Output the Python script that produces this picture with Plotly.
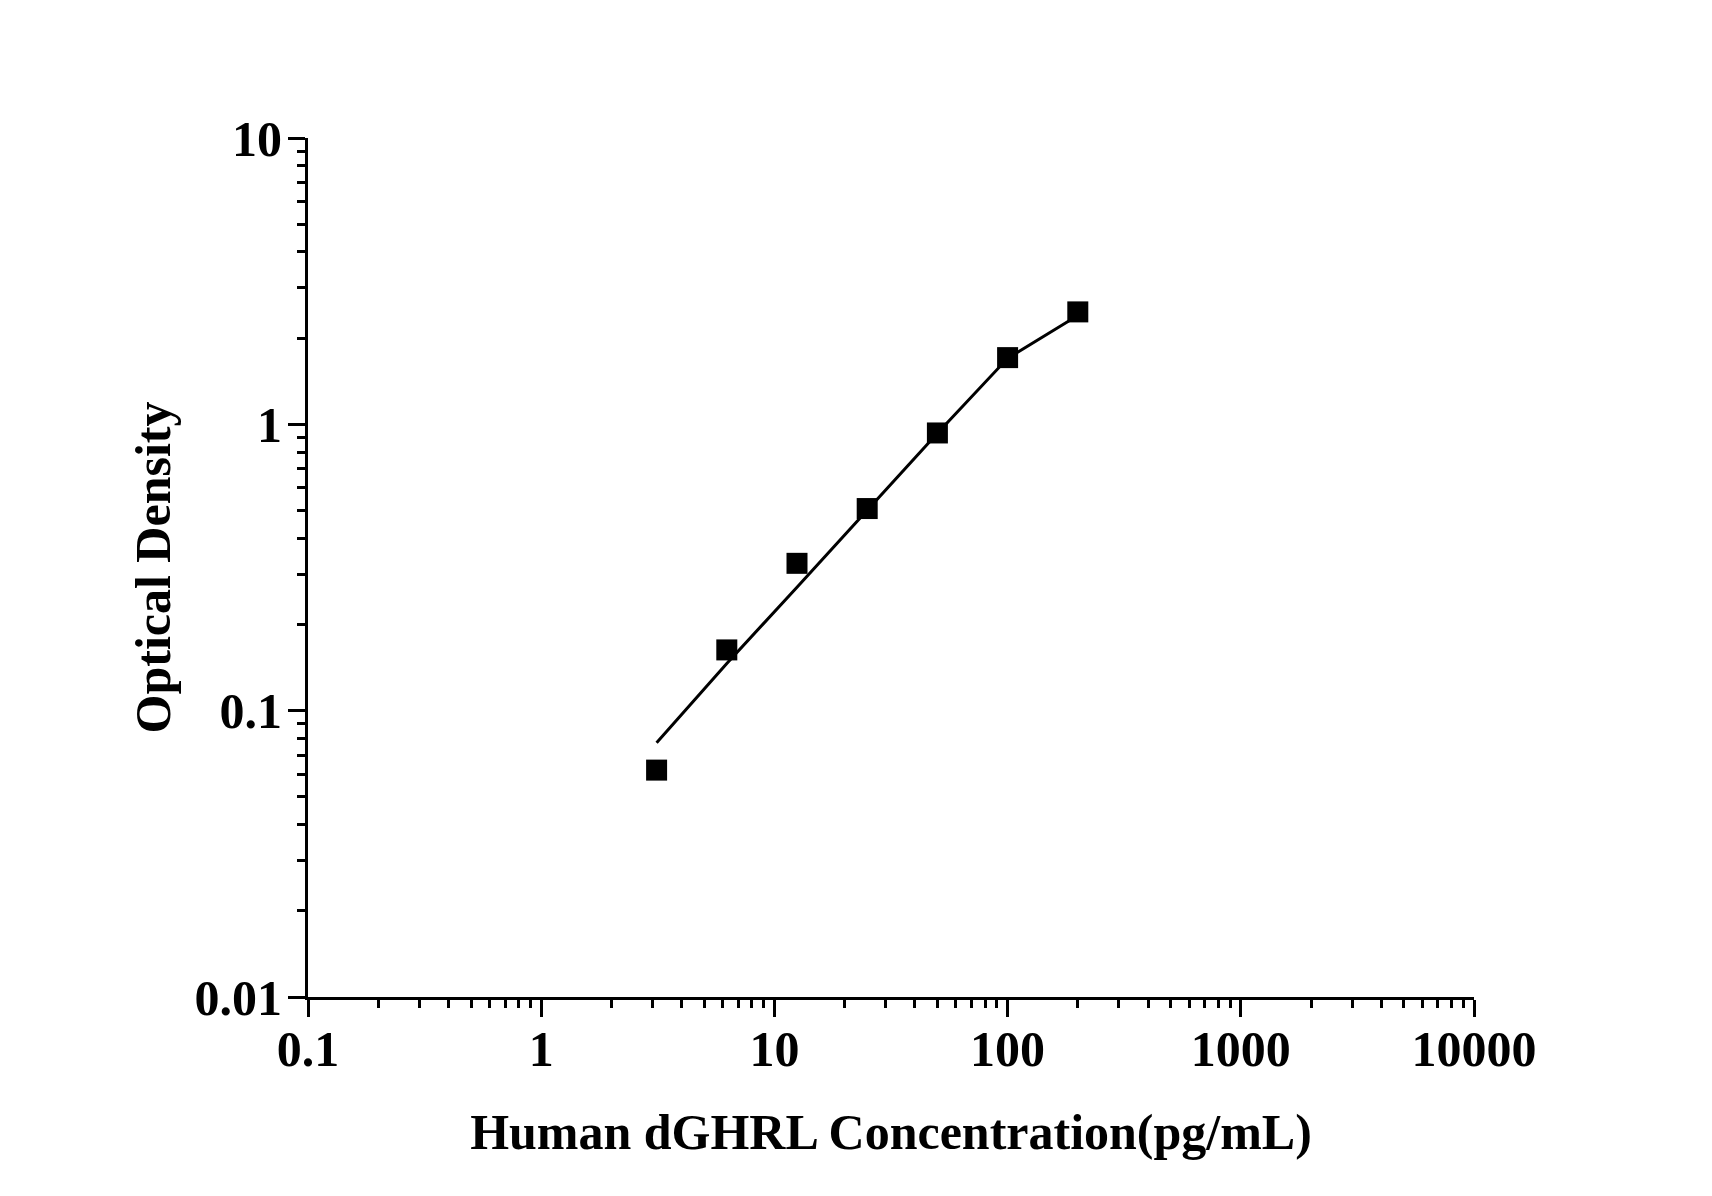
import plotly.graph_objects as go

# standard concentrations (pg/mL) and measured OD
conc = [3.125, 6.25, 12.5, 25, 50, 100, 200]
od = [0.062, 0.163, 0.327, 0.508, 0.933, 1.71, 2.47]

# fitted curve read at the same concentrations
fit_od = [0.0773, 0.146, 0.27, 0.50, 0.93, 1.70, 2.40]

font_name = "Liberation Serif"

fig = go.Figure()

fig.add_trace(go.Scatter(
    x=conc, y=fit_od,
    mode="lines",
    line=dict(color="black", width=3),
    showlegend=False,
))

fig.add_trace(go.Scatter(
    x=conc, y=od,
    mode="markers",
    marker=dict(symbol="square", size=21, color="black"),
    showlegend=False,
))

axis_common = dict(
    type="log",
    dtick=1,
    tickformat="~g",
    showgrid=False,
    zeroline=False,
    showline=True,
    linecolor="black",
    linewidth=3,
    ticks="outside",
    ticklen=17,
    tickwidth=3,
    tickcolor="black",
    tickfont=dict(family=font_name, size=50, color="black", weight="bold"),
    minor=dict(dtick="D1", ticks="outside", ticklen=8, tickwidth=3, tickcolor="black", showgrid=False),
)

fig.update_layout(
    width=1712,
    height=1196,
    margin=dict(l=300, r=246, t=130, b=207),
    plot_bgcolor="white",
    paper_bgcolor="white",
    xaxis=dict(
        axis_common,
        range=[-1, 4],
        ticklabelstandoff=-11,
        title=dict(text="<b>Human dGHRL Concentration(pg/mL)</b>",
                   font=dict(family=font_name, size=50, color="black"),
                   standoff=38),
    ),
    yaxis=dict(
        axis_common,
        range=[-2, 1],
        ticklabelstandoff=-4,
        title=dict(text="<b>Optical Density</b>",
                   font=dict(family=font_name, size=50, color="black"),
                   standoff=9),
    ),
)

fig.write_html("out.html")
